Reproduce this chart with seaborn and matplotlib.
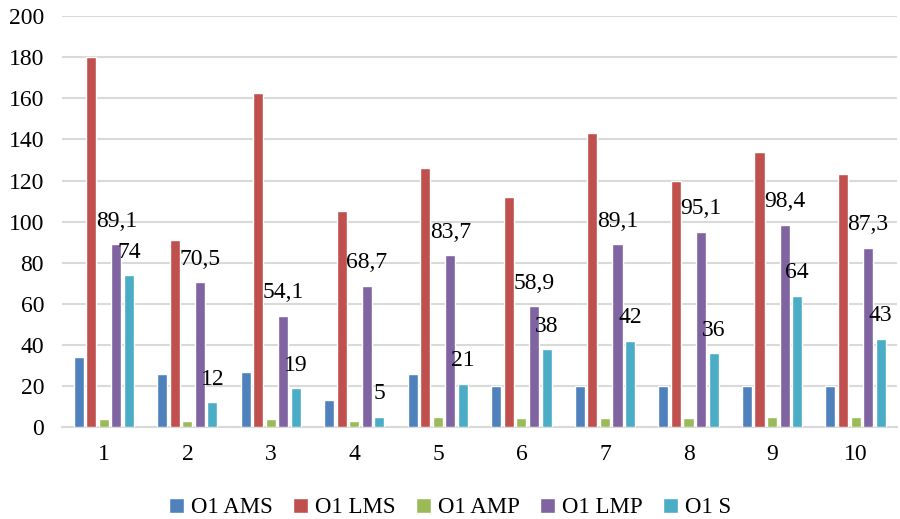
import matplotlib
matplotlib.use("Agg")
import matplotlib.pyplot as plt
import pandas as pd
import seaborn as sns

groups = ["1", "2", "3", "4", "5", "6", "7", "8", "9", "10"]
series = ["O1 AMS", "O1 LMS", "O1 AMP", "O1 LMP", "O1 S"]
ams = [34, 26, 27, 13, 26, 20, 20, 20, 20, 20]
lms = [180, 91, 162.5, 105, 126, 112, 143, 120, 134, 123]
amp = [4, 3, 4, 3, 5, 4.5, 4.5, 4.5, 5, 5]
lmp = [89.1, 70.5, 54.1, 68.7, 83.7, 58.9, 89.1, 95.1, 98.4, 87.3]
s = [74, 12, 19, 5, 21, 38, 42, 36, 64, 43]
colors = ["#4F81BD", "#C0504D", "#9BBB59", "#8064A2", "#4BACC6"]

rows = []
for name, vals in zip(series, [ams, lms, amp, lmp, s]):
    for g, v in zip(groups, vals):
        rows.append({"group": g, "series": name, "value": v})
df = pd.DataFrame(rows)

sns.set_style("white")
plt.rcParams["font.family"] = ["Liberation Serif", "DejaVu Serif"]
plt.rcParams["text.color"] = "black"

fig, ax = plt.subplots(figsize=(9, 5.19), dpi=100)
fig.subplots_adjust(left=0.069, right=0.997, top=0.969, bottom=0.177)

sns.barplot(data=df, x="group", y="value", hue="series", palette=colors,
            errorbar=None, width=0.75, gap=0.2, saturation=1, ax=ax,
            zorder=3)

# only the LMP and S series carry value labels
for idx in [3, 4]:
    vals = [lmp, s][idx - 3]
    labels = [f"{v:g}".replace(".", ",") for v in vals]
    ax.bar_label(ax.containers[idx], labels=labels, padding=9,
                 fontsize=17, color="black")

ax.set_ylim(0, 200)
ax.set_xlim(-0.5, 9.5)
ax.set_yticks(range(0, 201, 20))
ax.yaxis.grid(True, color="#D9D9D9", linewidth=1.5, zorder=0)
ax.set_axisbelow(True)
ax.set_xlabel("")
ax.set_ylabel("")
ax.tick_params(axis="both", length=0, labelsize=17, labelcolor="black")
ax.tick_params(axis="y", pad=13)
ax.tick_params(axis="x", pad=12)
for sp in ["top", "right", "left"]:
    ax.spines[sp].set_visible(False)
ax.spines["bottom"].set_color("#D9D9D9")
ax.spines["bottom"].set_linewidth(1.5)

handles, labs = ax.get_legend_handles_labels()
ax.legend_.remove()
fig.legend(handles, labs, loc="lower center", bbox_to_anchor=(0.5, -0.025),
           ncol=5, frameon=False, fontsize=16.5, handlelength=0.65,
           handleheight=0.65, handletextpad=0.3, columnspacing=0.9,
           borderpad=0.1)

fig.savefig("out.png", dpi=100)
